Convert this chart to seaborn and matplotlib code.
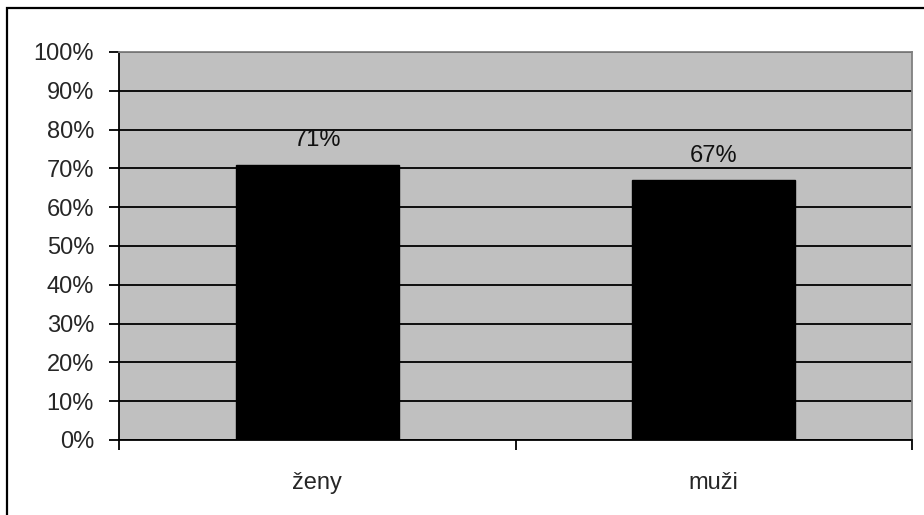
import pandas as pd
import matplotlib
matplotlib.use('Agg')
import matplotlib.pyplot as plt
import seaborn as sns
from matplotlib.patches import Rectangle
from matplotlib.ticker import PercentFormatter

# Data
categories = ['ženy', 'muži']
values = [0.71, 0.67]
labels = ['71%', '67%']
y_ticks = [i / 10 for i in range(11)]

df = pd.DataFrame({'pohlavi': categories, 'podil': values})

sns.set_style('white')
plt.rcParams['font.family'] = ['Liberation Sans', 'DejaVu Sans']

fig = plt.figure(figsize=(9.24, 5.15), dpi=100)
ax = fig.add_axes([119 / 924, 1 - 440 / 515, 793 / 924, 388 / 515])

sns.barplot(data=df, x='pohlavi', y='podil', color='black', width=0.41,
            saturation=1, edgecolor='black', ax=ax)

ax.set_facecolor('#C0C0C0')
ax.set_ylim(0, 1)
ax.set_xlim(-0.5, 1.5)
ax.set_yticks(y_ticks)
ax.yaxis.set_major_formatter(PercentFormatter(1.0, decimals=0))
ax.set_xticks([-0.5, 0.5, 1.5], minor=False)
ax.set_xticklabels(['', '', ''])
ax.set_xticks([0, 1], minor=True)
ax.set_xticklabels(categories, minor=True)
ax.tick_params(axis='x', which='minor', length=0, pad=23, labelsize=17)
ax.tick_params(axis='x', which='major', length=7, width=1.3, color='black', direction='out', bottom=True)
ax.tick_params(axis='y', length=7, width=1.3, color='black', direction='out', left=True, pad=11, labelsize=17)
ax.set_xlabel('')
ax.set_ylabel('')

ax.yaxis.grid(True, color='black', lw=1.3)
ax.set_axisbelow(True)
for side in ['left', 'bottom']:
    ax.spines[side].set_color('black')
    ax.spines[side].set_linewidth(1.3)
for side in ['top', 'right']:
    ax.spines[side].set_visible(True)
    ax.spines[side].set_color('#808080')
    ax.spines[side].set_linewidth(1.3)

for patch, txt in zip(ax.patches, labels):
    ax.annotate(txt, (patch.get_x() + patch.get_width() / 2, patch.get_height()),
                xytext=(0, 13), textcoords='offset points', ha='center', va='baseline',
                fontsize=17, color='#111111')

# Outer chart border
fig.patches.append(Rectangle((7 / 924, -0.1), 1.2, 1.1 - 8 / 515, fill=False,
                             lw=1.6, edgecolor='black', transform=fig.transFigure))

fig.savefig('out.png', dpi=100)
